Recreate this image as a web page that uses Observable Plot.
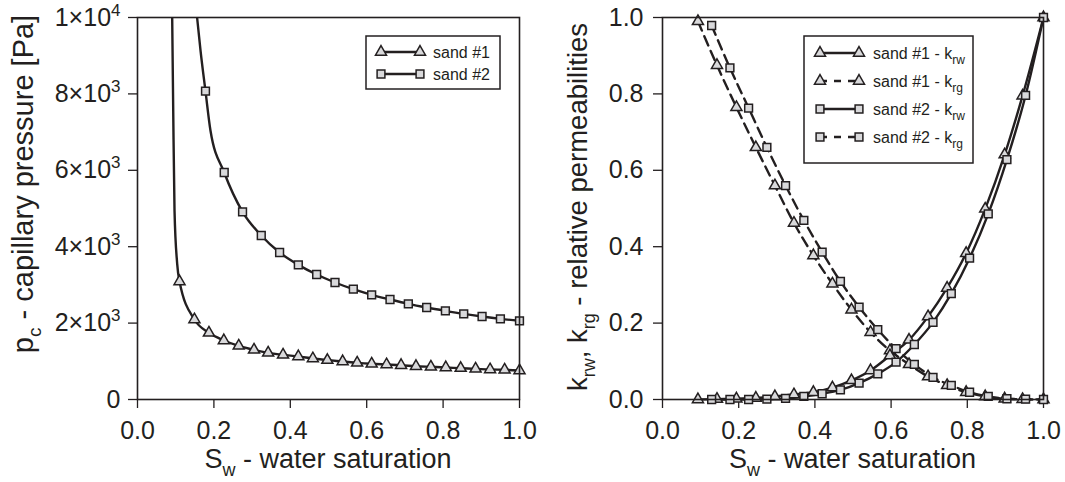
<!DOCTYPE html>
<html><head><meta charset="utf-8">
<script src="https://cdn.jsdelivr.net/npm/d3@7"></script>
<script src="https://cdn.jsdelivr.net/npm/@observablehq/plot@0.6"></script>
<style>
html,body{margin:0;padding:0;background:#fff;}
#wrap{display:flex;width:1065px;height:482px;overflow:hidden;background:#fff;}
svg{display:block;}
</style></head><body><div id="wrap"></div>
<script>
// ---------- data ----------
const xTicks = [0, 0.2, 0.4, 0.6, 0.8, 1.0];
const pcTicks = [0, 2000, 4000, 6000, 8000, 10000];
const pcTickLabels = ["0", "2×10^{3}", "4×10^{3}", "6×10^{3}", "8×10^{3}", "1×10^{4}"];
const kTicks = [0, 0.2, 0.4, 0.6, 0.8, 1.0];

// capillary pressure, sand #1 (triangles)
const pcSw1 = [0.110, 0.149, 0.187, 0.226, 0.265, 0.305, 0.342, 0.381, 0.421, 0.459, 0.497, 0.537, 0.575, 0.613, 0.652, 0.690, 0.729, 0.768, 0.807, 0.846, 0.885, 0.923, 0.961, 1.0];
const pc1   = [3089, 2094, 1745, 1545, 1405, 1300, 1222, 1169, 1126, 1073, 1030, 995, 960, 934, 916, 898, 872, 855, 838, 820, 803, 785, 777, 759];
// extra points along the steep part of the sand #1 curve (no marker)
const pcCurveSw1 = [0.0908, 0.0935, 0.0969, 0.1039];
const pcCurve1   = [10000, 7565, 4948, 3552];

// capillary pressure, sand #2 (squares)
const pcSw2 = [0.178, 0.227, 0.275, 0.324, 0.372, 0.421, 0.469, 0.517, 0.565, 0.613, 0.661, 0.709, 0.757, 0.806, 0.854, 0.902, 0.950, 1.0];
const pc2   = [8071, 5942, 4913, 4293, 3848, 3525, 3272, 3063, 2888, 2740, 2618, 2504, 2408, 2321, 2242, 2173, 2112, 2059];
const pcCurveSw2 = [0.156, 0.165, 0.191];
const pcCurve2   = [10000, 9136, 7042];

// relative permeabilities
const kSw1  = [0.093, 0.143, 0.194, 0.245, 0.295, 0.345, 0.396, 0.446, 0.496, 0.546, 0.597, 0.647, 0.697, 0.747, 0.797, 0.847, 0.898, 0.945, 1.0];
const krw1  = [0, 0.001, 0.002, 0.004, 0.008, 0.013, 0.019, 0.031, 0.050, 0.076, 0.115, 0.156, 0.217, 0.292, 0.383, 0.499, 0.641, 0.795, 1.0];
const krg1  = [0.99, 0.875, 0.765, 0.660, 0.560, 0.462, 0.377, 0.303, 0.235, 0.176, 0.128, 0.092, 0.060, 0.037, 0.019, 0.008, 0.002, 0.0005, 0];
const kSw2  = [0.129, 0.177, 0.226, 0.274, 0.323, 0.371, 0.419, 0.467, 0.516, 0.565, 0.613, 0.661, 0.710, 0.758, 0.806, 0.855, 0.904, 0.953, 1.0];
const krw2  = [0, 0, 0, 0.001, 0.003, 0.008, 0.015, 0.025, 0.043, 0.067, 0.098, 0.144, 0.202, 0.277, 0.370, 0.486, 0.628, 0.796, 1.0];
const krg2  = [0.979, 0.868, 0.763, 0.660, 0.560, 0.469, 0.386, 0.309, 0.242, 0.183, 0.133, 0.092, 0.058, 0.037, 0.019, 0.008, 0.002, 0.001, 0];

const legendLeft  = ["sand #1", "sand #2"];
const legendRight = ["sand #1 - k_{rw}", "sand #1 - k_{rg}", "sand #2 - k_{rw}", "sand #2 - k_{rg}"];

// ---------- style ----------
const INK = "#231f20", FILL = "#d9d9db";
const FONT = "'Liberation Sans', Arial, Helvetica, sans-serif";
const TRI_R = 4.1, SQ_R = 4.4, LW = 2.4, MW = 1.5, DASH = "10,6";

const zip = (xs, ys) => xs.map((x, i) => ({x, y: ys[i]}));
const byX = (a, b) => a.x - b.x;

// rich text with _{sub} and ^{sup}
function rich(textSel, str, subSize, subShift, supShift) {
  const re = /([_^])\{([^}]*)\}|([^_^]+)/g;
  let m, off = 0;
  while ((m = re.exec(str))) {
    const t = textSel.append("tspan");
    if (m[1]) {
      const s = m[1] === "_" ? subShift : -supShift;
      t.text(m[2]).attr("font-size", subSize);
      if (s - off !== 0) t.attr("dy", s - off);
      off = s;
    } else {
      t.text(m[3]);
      if (off !== 0) t.attr("dy", -off);
      off = 0;
    }
  }
}

function fixTickLabels(svg) {
  d3.select(svg).selectAll("text").each(function () {
    const s = this.textContent;
    if (s.includes("^{") || s.includes("_{")) {
      const sel = d3.select(this);
      sel.text(null);
      rich(sel, s, 17, 7, 10);
    }
  });
}

function symbolPath(type, r) {
  return d3.symbol(type === "triangle" ? d3.symbolTriangle : d3.symbolSquare, Math.PI * r * r)();
}

function drawLegend(svg, box, rows, rowY, x1, x2, tx, styles) {
  const g = d3.select(svg).append("g").attr("font-family", FONT).attr("text-anchor", "start");
  g.append("rect").attr("x", box.x).attr("y", box.y).attr("width", box.w).attr("height", box.h)
    .attr("fill", "white").attr("stroke", INK).attr("stroke-width", 1.5);
  rows.forEach((label, i) => {
    const y = rowY[i], st = styles[i];
    g.append("line").attr("x1", x1).attr("x2", x2).attr("y1", y).attr("y2", y)
      .attr("stroke", INK).attr("stroke-width", LW).attr("stroke-dasharray", st.dash || null);
    [x1, x2].forEach(x => g.append("path")
      .attr("d", symbolPath(st.symbol, st.symbol === "triangle" ? TRI_R : SQ_R))
      .attr("transform", `translate(${x},${y})`)
      .attr("fill", FILL).attr("stroke", INK).attr("stroke-width", MW));
    const t = g.append("text").attr("x", tx).attr("y", y + 5.5).attr("font-size", 16)
      .attr("fill", INK).attr("text-anchor", "start");
    rich(t, label, 12, 5, 6);
  });
}

function addTitle(svg, str, x, y, rotate, size) {
  const t = d3.select(svg).append("text")
    .attr("transform", `translate(${x},${y})` + (rotate ? " rotate(-90)" : ""))
    .attr("text-anchor", "middle").attr("font-family", FONT).attr("font-size", size).attr("fill", INK);
  rich(t, str, Math.round(size * 0.65), 8, 9);
}

const common = {
  height: 482, marginTop: 17, marginBottom: 83,
  x: {domain: [0, 1]}
};
const axX = () => Plot.axisX({ticks: xTicks, tickFormat: d3.format(".1f"), tickSize: 9, tickPadding: 13, fontSize: 25, strokeWidth: 1.3, label: null});

// ---------- left panel ----------
const line1 = zip(pcCurveSw1, pcCurve1).concat(zip(pcSw1, pc1)).sort(byX);
const line2 = zip(pcCurveSw2, pcCurve2).concat(zip(pcSw2, pc2)).sort(byX);

const left = Plot.plot({
  ...common, width: 530, marginLeft: 137, marginRight: 11,
  style: {fontFamily: FONT, color: INK, background: "white", overflow: "visible"},
  y: {domain: [0, 10000]},
  marks: [
    axX(),
    Plot.axisY({ticks: pcTicks, tickFormat: d => pcTickLabels[pcTicks.indexOf(d)], tickSize: 9, tickPadding: 8, fontSize: 25, strokeWidth: 1.3, label: null}),
    Plot.line(line1, {x: "x", y: "y", curve: "monotone-x", stroke: INK, strokeWidth: LW, clip: true}),
    Plot.line(line2, {x: "x", y: "y", curve: "monotone-x", stroke: INK, strokeWidth: LW, clip: true}),
    Plot.dot(zip(pcSw1, pc1), {x: "x", y: "y", symbol: "triangle", r: TRI_R, fill: FILL, stroke: INK, strokeWidth: MW}),
    Plot.dot(zip(pcSw2, pc2), {x: "x", y: "y", symbol: "square", r: SQ_R, fill: FILL, stroke: INK, strokeWidth: MW}),
    Plot.frame({stroke: INK, strokeWidth: 1.6})
  ]
});
fixTickLabels(left);
drawLegend(left, {x: 366, y: 36, w: 134, h: 53}, legendLeft, [52, 74], 381, 420, 433,
  [{symbol: "triangle"}, {symbol: "square"}]);
addTitle(left, "p_{c} - capillary pressure [Pa]", 33, 184, true, 29);
addTitle(left, "S_{w} - water saturation", 328, 468, false, 27);

// ---------- right panel ----------
const right = Plot.plot({
  ...common, width: 535, marginLeft: 132, marginRight: 22,
  style: {fontFamily: FONT, color: INK, background: "none", overflow: "visible"},
  y: {domain: [0, 1]},
  marks: [
    axX(),
    Plot.axisY({ticks: kTicks, tickFormat: d3.format(".1f"), tickSize: 9, tickPadding: 10, fontSize: 25, strokeWidth: 1.3, label: null}),
    Plot.line(zip(kSw1, krg1), {x: "x", y: "y", curve: "monotone-x", stroke: INK, strokeWidth: LW, strokeDasharray: DASH}),
    Plot.line(zip(kSw2, krg2), {x: "x", y: "y", curve: "monotone-x", stroke: INK, strokeWidth: LW, strokeDasharray: DASH}),
    Plot.line(zip(kSw1, krw1), {x: "x", y: "y", curve: "monotone-x", stroke: INK, strokeWidth: LW}),
    Plot.line(zip(kSw2, krw2), {x: "x", y: "y", curve: "monotone-x", stroke: INK, strokeWidth: LW}),
    Plot.dot(zip(kSw1, krg1), {x: "x", y: "y", symbol: "triangle", r: TRI_R, fill: FILL, stroke: INK, strokeWidth: MW}),
    Plot.dot(zip(kSw1, krw1), {x: "x", y: "y", symbol: "triangle", r: TRI_R, fill: FILL, stroke: INK, strokeWidth: MW}),
    Plot.dot(zip(kSw2, krg2), {x: "x", y: "y", symbol: "square", r: SQ_R, fill: FILL, stroke: INK, strokeWidth: MW}),
    Plot.dot(zip(kSw2, krw2), {x: "x", y: "y", symbol: "square", r: SQ_R, fill: FILL, stroke: INK, strokeWidth: MW}),
    Plot.frame({stroke: INK, strokeWidth: 1.6})
  ]
});
drawLegend(right, {x: 274, y: 36, w: 169, h: 127}, legendRight, [53, 81, 109, 137], 290, 329, 343,
  [{symbol: "triangle"}, {symbol: "triangle", dash: "7,7"}, {symbol: "square"}, {symbol: "square", dash: "7,7"}]);
addTitle(right, "k_{rw}, k_{rg} - relative permeabilities", 57, 207, true, 27.5);
addTitle(right, "S_{w} - water saturation", 322.5, 468, false, 27);

document.getElementById("wrap").append(left, right);
</script></body></html>
